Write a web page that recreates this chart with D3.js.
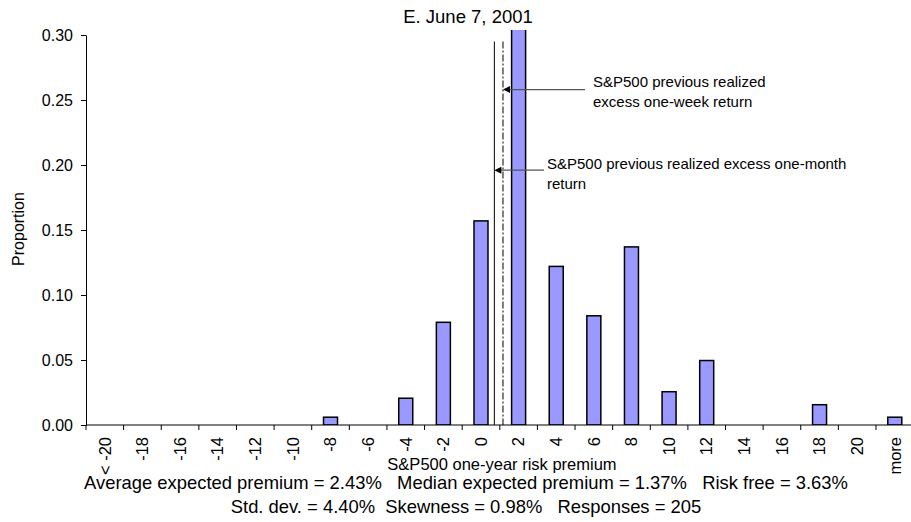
<!DOCTYPE html>
<html><head><meta charset="utf-8">
<script src="https://cdn.jsdelivr.net/npm/d3@7"></script>
<style>
body{margin:0;background:#fff}
svg text{font-family:"Liberation Sans",Arial,sans-serif;fill:#000}
</style>
</head><body>
<svg id="chart" width="911" height="522"></svg>
<script>
// ---- data ----
const categories = ["< -20","-18","-16","-14","-12","-10","-8","-6","-4","-2","0","2","4","6","8","10","12","14","16","18","20","more"];
const proportions = [0,0,0,0,0,0,0.006,0,0.0206,0.079,0.157,0.307,0.122,0.084,0.137,0.0256,0.0496,0,0,0.0156,0,0.006];
const yTickValues = [0,0.05,0.10,0.15,0.20,0.25,0.30];
const premiumDomain = [-20, 22]; // numeric positions of first and last category
const refLines = [
  {name:"month", value:0.71, arrowY:0.196, text:["S&P500 previous realized excess one-month","return"], dash:null},
  {name:"week", value:1.17, arrowY:0.258, text:["S&P500 previous realized","excess one-week return"], dash:"7,2,2,2"}
];
const refLineTop = 0.295;
const titleText = "E. June 7, 2001";
const xTitle = "S&P500 one-year risk premium";
const yTitle = "Proportion";
const statsLines = [
  "Average expected premium = 2.43%   Median expected premium = 1.37%   Risk free = 3.63%",
  "Std. dev. = 4.40%  Skewness = 0.98%   Responses = 205"
];

(function(){
const svg = d3.select("#chart");
const L = 86, R = 913.6, T = 30, Y0 = 425, Y30 = 35;

const x = d3.scaleBand().domain(categories).range([L, R]).padding(0);
const y = d3.scaleLinear().domain([0, 0.30]).range([Y0, Y30]);
const step = x.step();
const px = d3.scaleLinear().domain(premiumDomain)
  .range([x(categories[0]) + step/2, x(categories[categories.length-1]) + step/2]);

svg.append("defs").append("clipPath").attr("id","plotclip")
  .append("rect").attr("x", L).attr("y", T).attr("width", R-L).attr("height", Y0-T);

// bars
const barW = 14;
svg.append("g").attr("clip-path","url(#plotclip)")
  .selectAll("rect").data(categories.map((c,i)=>({c, v:proportions[i]})).filter(d=>d.v>0))
  .join("rect")
  .attr("x", d => x(d.c) + step/2 - barW/2)
  .attr("y", d => y(d.v))
  .attr("width", barW)
  .attr("height", d => y(0) - y(d.v))
  .attr("fill", "#9999ff")
  .attr("stroke", "#000")
  .attr("stroke-width", 1.5);

// y axis
const yAxis = d3.axisLeft(y).tickValues(yTickValues).tickFormat(d3.format(".2f")).tickSize(5).tickSizeOuter(0).tickPadding(8);
const gy = svg.append("g").attr("transform", `translate(${L},0)`).call(yAxis);
gy.select(".domain").attr("stroke","#000");
gy.selectAll(".tick line").attr("stroke","#000");
gy.selectAll(".tick text").attr("font-size", 16).attr("font-family",'"Liberation Sans",Arial,sans-serif');

// x axis: line + ticks at category boundaries
const gx = svg.append("g");
gx.append("line").attr("x1", L).attr("x2", R).attr("y1", Y0).attr("y2", Y0).attr("stroke","#000").attr("stroke-width",1);
gx.selectAll("line.tk").data(categories).join("line").attr("class","tk")
  .attr("x1", d => x(d)).attr("x2", d => x(d)).attr("y1", Y0).attr("y2", Y0+5).attr("stroke","#000");
gx.selectAll("text.lbl").data(categories).join("text").attr("class","lbl")
  .attr("transform", d => `translate(${x(d)+step/2},${Y0+12}) rotate(-90)`)
  .attr("text-anchor","end").attr("dy","0.35em").attr("font-size",16.5)
  .text(d => d);

// reference lines
refLines.forEach(r => {
  const xx = px(r.value);
  svg.append("line").attr("x1", xx).attr("x2", xx).attr("y1", y(refLineTop)).attr("y2", Y0)
    .attr("stroke","#000").attr("stroke-width",1)
    .attr("stroke-dasharray", r.dash);
});

// annotations with arrows
const week = refLines.find(r=>r.name==="week");
const month = refLines.find(r=>r.name==="month");
function arrow(tipX, yy, startX){
  svg.append("line").attr("x1", startX).attr("x2", tipX+6).attr("y1", yy).attr("y2", yy)
    .attr("stroke","#555").attr("stroke-width",1.2);
  svg.append("path").attr("d", `M${tipX},${yy} L${tipX+7},${yy-3.5} L${tipX+7},${yy+3.5} Z`).attr("fill","#000");
}
arrow(px(week.value), y(week.arrowY), 585);
arrow(px(month.value), y(month.arrowY), 544);
const wt = svg.append("text").attr("x", 593).attr("y", 87).attr("font-size",15);
week.text.forEach((t,i)=> wt.append("tspan").attr("x",593).attr("dy", i?20:0).text(t));
const mt = svg.append("text").attr("x", 547).attr("y", 169).attr("font-size",15);
month.text.forEach((t,i)=> mt.append("tspan").attr("x",547).attr("dy", i?20:0).text(t));

// titles
svg.append("text").attr("x", 468).attr("y", 23).attr("text-anchor","middle").attr("font-size",18.5).text(titleText);
svg.append("text").attr("transform","translate(24,229) rotate(-90)").attr("text-anchor","middle").attr("font-size",16).text(yTitle);
svg.append("text").attr("x", 502).attr("y", 470).attr("text-anchor","middle").attr("font-size",16.5).text(xTitle);
statsLines.forEach((t,i)=>{
  svg.append("text").attr("x", 466).attr("y", 489 + i*24).attr("text-anchor","middle")
    .attr("font-size",18.4).style("white-space","pre").text(t);
});
})();
</script>
</body></html>
